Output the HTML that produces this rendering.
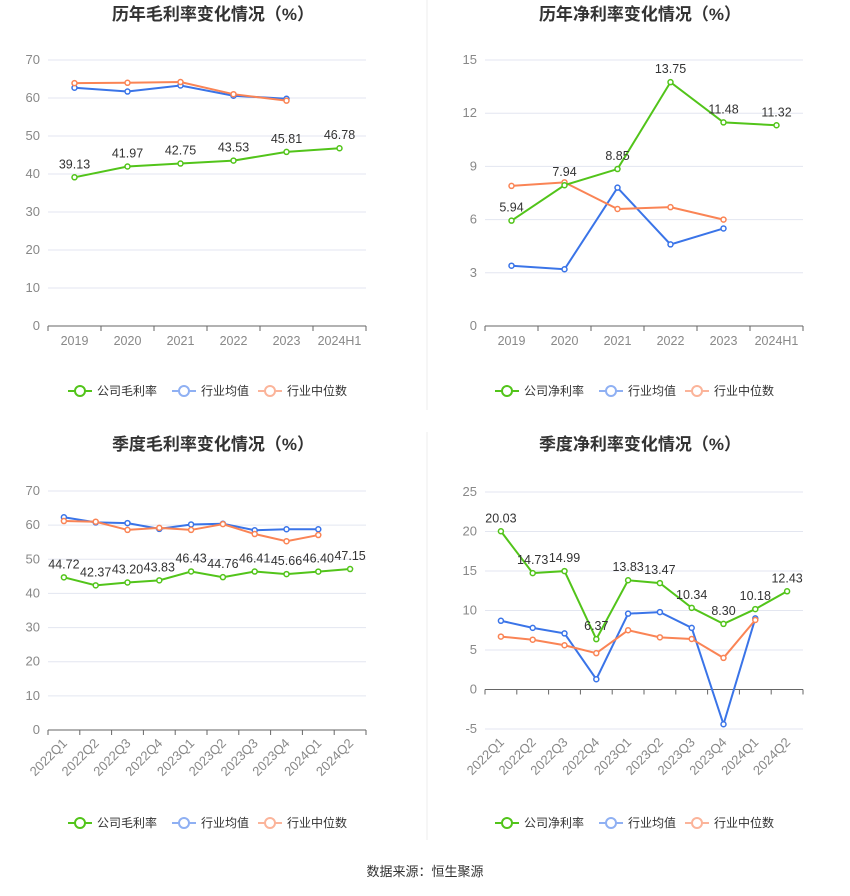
<!DOCTYPE html>
<html><head><meta charset="utf-8"><style>
body{margin:0;background:#fff;width:850px;height:891px;overflow:hidden;font-family:"Liberation Sans","Noto Sans CJK SC",sans-serif}
</style></head><body>
<svg id="s" width="850" height="891" xmlns="http://www.w3.org/2000/svg" font-family="Liberation Sans, Noto Sans CJK SC, sans-serif">
<line x1="427" y1="0" x2="427" y2="410" stroke="#eee"/>
<line x1="427" y1="432" x2="427" y2="840" stroke="#eee"/>
<text x="425" y="876" text-anchor="middle" font-size="13" fill="#333">数据来源：恒生聚源</text>
</svg>
<script>
const annualCats=["2019","2020","2021","2022","2023","2024H1"];
const quarterCats=["2022Q1","2022Q2","2022Q3","2022Q4","2023Q1","2023Q2","2023Q3","2023Q4","2024Q1","2024Q2"];
const gmCompany=[39.13,41.97,42.75,43.53,45.81,46.78];
const gmMean=[62.7,61.7,63.3,60.6,59.8];
const gmMedian=[63.9,64.0,64.2,61.0,59.3];
const npCompany=[5.94,7.94,8.85,13.75,11.48,11.32];
const npMean=[3.4,3.2,7.8,4.6,5.5];
const npMedian=[7.9,8.1,6.6,6.7,6.0];
const qgmCompany=[44.72,42.37,43.20,43.83,46.43,44.76,46.41,45.66,46.40,47.15];
const qgmMean=[62.3,60.8,60.6,58.9,60.2,60.4,58.5,58.8,58.8];
const qgmMedian=[61.2,61.0,58.6,59.2,58.6,60.3,57.4,55.3,57.1];
const qnpCompany=[20.03,14.73,14.99,6.37,13.83,13.47,10.34,8.30,10.18,12.43];
const qnpMean=[8.7,7.8,7.1,1.3,9.6,9.8,7.8,-4.4,9.0];
const qnpMedian=[6.7,6.3,5.6,4.6,7.5,6.6,6.4,4.0,8.8];
const gmTicks=[0,10,20,30,40,50,60,70];
const npTicks=[0,3,6,9,12,15];
const qnpTicks=[-5,0,5,10,15,20,25];

const NS="http://www.w3.org/2000/svg";
const svg=document.getElementById('s');
function el(t,a,p){const e=document.createElementNS(NS,t);for(const k in a)e.setAttribute(k,a[k]);(p||svg).appendChild(e);return e;}
const GREEN="#52c41a",BLUE="#3a74e8",ORANGE="#fa8455";

function chart(o){
  const g=el('g',{});
  
  
  const tmin=o.ticks[0],tmax=o.ticks[o.ticks.length-1];
  const y=v=>o.yb-(v-tmin)/(tmax-tmin)*(o.yb-o.yt);
  const n=o.cats.length,step=(o.x1-o.x0)/n;
  const x=i=>o.x0+step*(i+0.5);
  const t=el('text',{x:o.cx,y:o.ty,'text-anchor':'middle','font-size':17,'font-weight':'bold',fill:'#333'},g);
  t.textContent=o.title;
  
  
  o.ticks.forEach(v=>{
    const l=el('line',{x1:o.x0,x2:o.x1,y1:y(v),y2:y(v),stroke:v===0?'#666':'#e3e6f0'},g);
    
    
    const tx=el('text',{x:o.x0-8,y:y(v)+4,'text-anchor':'end','font-size':13,fill:'#888'},g);
    tx.textContent=v;
    
    
  });
  for(let i=0;i<=n;i++){el('line',{x1:o.x0+step*i,x2:o.x0+step*i,y1:y(0),y2:y(0)+5,stroke:'#666'},g);}
  o.cats.forEach((c,i)=>{
    let tx;
    if(o.rot){tx=el('text',{x:x(i)+4,y:y(tmin)+14,'text-anchor':'end','font-size':13,fill:'#888',transform:`rotate(-45 ${x(i)+4} ${y(tmin)+14})`},g);}
    else tx=el('text',{x:x(i),y:y(0)+19,'text-anchor':'middle','font-size':12.5,fill:'#888'},g);
    tx.textContent=c;
    
    
  });
  const series=[[o.mean,BLUE,'industry-mean-line'],[o.median,ORANGE,'industry-median-line'],[o.comp,GREEN,'company-line']];
  series.forEach(([d,c,nm])=>{
    const p=el('polyline',{points:d.map((v,i)=>x(i)+','+y(v)).join(' '),fill:'none',stroke:c,'stroke-width':2},g);
    
    
    d.forEach((v,i)=>{
      const ci=el('circle',{cx:x(i),cy:y(v),r:2.5,fill:'#fff',stroke:c,'stroke-width':1.5},g);
      
      
    });
  });
  o.comp.forEach((v,i)=>{
    const tx=el('text',{x:x(i),y:y(v)-9,'text-anchor':'middle','font-size':12.5,fill:'#333'},g);
    tx.textContent=v.toFixed(2);
    
    
  });
  const items=[[o.compName,GREEN],['行业均值','#8fb0f3'],['行业中位数','#fbb49a']];
  let lx=o.cx-145;
  items.forEach(([nm,c],k)=>{
    const lg=el('g',{},g);
    
    
    el('line',{x1:lx,x2:lx+24,y1:o.ly,y2:o.ly,stroke:c,'stroke-width':2},lg);
    el('circle',{cx:lx+12,cy:o.ly,r:5,fill:'#fff',stroke:c,'stroke-width':2},lg);
    const tx=el('text',{x:lx+29,y:o.ly+4,'font-size':12,fill:'#333'},lg);
    tx.textContent=nm;
    lx+=k===0?104:86;
  });
}
chart({name:'annual-gross-margin-chart',title:'历年毛利率变化情况（%）',cx:213,ty:20,x0:48,x1:366,yt:60,yb:326,ticks:gmTicks,cats:annualCats,comp:gmCompany,mean:gmMean,median:gmMedian,compName:'公司毛利率',ly:391});
chart({name:'annual-net-margin-chart',title:'历年净利率变化情况（%）',cx:640,ty:20,x0:485,x1:803,yt:60,yb:326,ticks:npTicks,cats:annualCats,comp:npCompany,mean:npMean,median:npMedian,compName:'公司净利率',ly:391});
chart({name:'quarterly-gross-margin-chart',title:'季度毛利率变化情况（%）',cx:213,ty:450,x0:48,x1:366,yt:491,yb:730,ticks:gmTicks,cats:quarterCats,comp:qgmCompany,mean:qgmMean,median:qgmMedian,compName:'公司毛利率',ly:823,rot:true});
chart({name:'quarterly-net-margin-chart',title:'季度净利率变化情况（%）',cx:640,ty:450,x0:485,x1:803,yt:492,yb:729,ticks:qnpTicks,cats:quarterCats,comp:qnpCompany,mean:qnpMean,median:qnpMedian,compName:'公司净利率',ly:823,rot:true});
</script>
</body></html>
